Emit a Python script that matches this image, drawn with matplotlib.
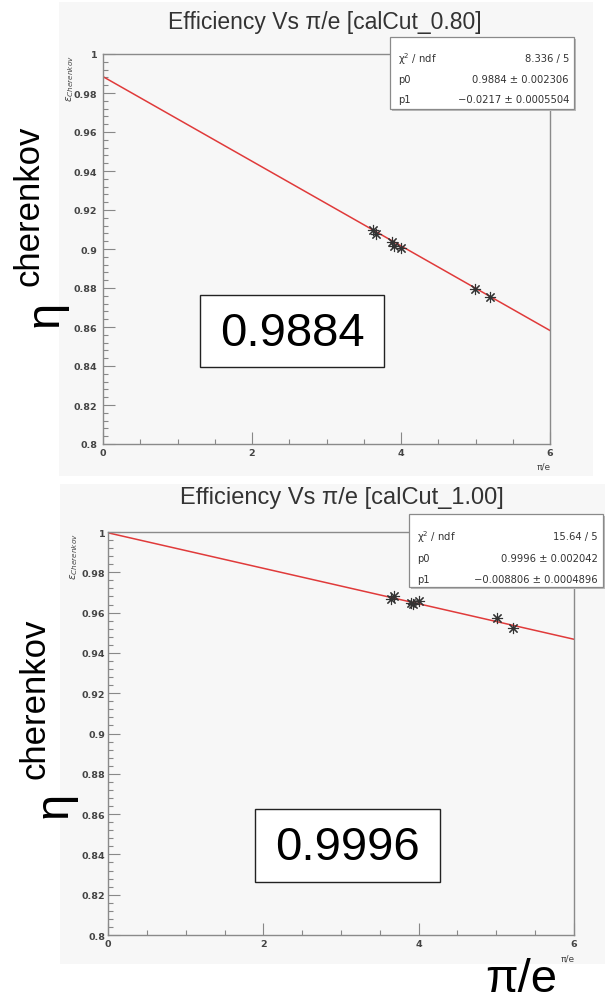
import numpy as np
import matplotlib.pyplot as plt
from matplotlib.patches import Rectangle
from matplotlib.ticker import MultipleLocator, FuncFormatter

# values
pion_e_top = [3.62, 3.66, 3.88, 3.91, 4.00, 4.99, 5.19]
eff_top = [0.9097, 0.9077, 0.9036, 0.9016, 0.9005, 0.8797, 0.8752]
pion_e_bot = [3.64, 3.68, 3.90, 3.93, 4.00, 5.01, 5.21]
eff_bot = [0.9668, 0.9680, 0.9648, 0.9645, 0.9656, 0.9572, 0.9522]

p0_top, p1_top = 0.9884, -0.0217
p0_bot, p1_bot = 0.9996, -0.008806

titles = ["Efficiency Vs \u03c0/e [calCut_0.80]", "Efficiency Vs \u03c0/e [calCut_1.00]"]
stats_top = [("\u03c7$^{2}$ / ndf", "8.336 / 5"),
             ("p0", "0.9884 \u00b1 0.002306"),
             ("p1", "\u22120.0217 \u00b1 0.0005504")]
stats_bot = [("\u03c7$^{2}$ / ndf", "15.64 / 5"),
             ("p0", "0.9996 \u00b1 0.002042"),
             ("p1", "\u22120.008806 \u00b1 0.0004896")]
big_labels = ["0.9884", "0.9996"]

W, H = 610, 1004
fig = plt.figure(figsize=(W / 100, H / 100), dpi=100)
fig.patch.set_facecolor('white')


def fx(px):
    return px / W


def fy(py):
    return 1 - py / H


def box(x0, y0, x1, y1, **kw):
    r = Rectangle((fx(x0), fy(y1)), fx(x1) - fx(x0), fy(y0) - fy(y1),
                  transform=fig.transFigure, **kw)
    fig.patches.append(r)
    return r


marker = (8, 2, 0)
red = '#e03a3a'
grey = '#8a8a8a'
tick_font = dict(family='DejaVu Sans', weight='bold', size=6.8)


def panel(canvas, frame, title, title_xy, title_size, xs, ys, p0, p1,
          stats, stat_box, stat_rows, big, big_box, ylab_xy, xlab_xy, ypad):
    # ROOT canvas background, kept behind the axes
    box(*canvas, facecolor='#f7f7f7', edgecolor='none', zorder=-5)

    x0, y0, x1, y1 = frame
    ax = fig.add_axes([fx(x0), fy(y1), fx(x1) - fx(x0), fy(y0) - fy(y1)])
    ax.set_facecolor('none')
    ax.set_xlim(0, 6)
    ax.set_ylim(0.8, 1.0)

    xfit = np.linspace(0, 6, 50)
    ax.plot(xfit, p0 + p1 * xfit, color=red, lw=1.1, zorder=2)
    ax.plot(xs, ys, ls='none', marker=marker, ms=8, mew=0.8,
            color='#333333', zorder=3)

    ax.xaxis.set_major_locator(MultipleLocator(2))
    ax.xaxis.set_minor_locator(MultipleLocator(0.5))
    ax.yaxis.set_major_locator(MultipleLocator(0.02))
    ax.yaxis.set_minor_locator(MultipleLocator(0.004))
    ax.yaxis.set_major_formatter(FuncFormatter(lambda v, _: f'{round(v, 2):g}'))
    ax.xaxis.set_major_formatter(FuncFormatter(lambda v, _: f'{v:g}'))
    ax.tick_params(which='both', direction='in', color='#888888', width=0.8,
                   top=False, right=False, labelcolor='#444444')
    ax.tick_params(which='major', length=8.5)
    ax.tick_params(which='minor', length=3.5)
    ax.tick_params(axis='x', pad=3)
    ax.tick_params(axis='y', pad=ypad)
    for lab in ax.get_xticklabels() + ax.get_yticklabels():
        lab.set_fontproperties(tick_font)
    for sp in ax.spines.values():
        sp.set_color(grey)
        sp.set_linewidth(1.0)

    fig.text(fx(title_xy[0]), fy(title_xy[1]), title, ha='center', va='center',
             fontsize=title_size, color='#333333', family='Liberation Sans')

    # small axis titles, ROOT style
    fig.text(fx(xlab_xy[0]), fy(xlab_xy[1]), '\u03c0/e', ha='right', va='center',
             fontsize=6.5, color='#444444')
    fig.text(fx(ylab_xy[0]), fy(ylab_xy[1]), r'$\epsilon_{Cherenkov}$',
             rotation=90, ha='center', va='top', fontsize=7.5, color='#444444')

    # stats box
    sx0, sy0, sx1, sy1 = stat_box
    box(sx0 + 2, sy0 + 2, sx1 + 2, sy1 + 2, facecolor='#bbbbbb', edgecolor='none', zorder=5)
    box(sx0, sy0, sx1, sy1, facecolor='white', edgecolor=grey, lw=0.9, zorder=6)
    for (name, val), ry in zip(stats, stat_rows):
        fig.text(fx(sx0 + 8), fy(ry), name, ha='left', va='center', fontsize=7.2,
                 color='#333333', zorder=7)
        fig.text(fx(sx1 - 5), fy(ry), val, ha='right', va='center', fontsize=7.2,
                 color='#333333', zorder=7)

    # big overlay value
    bx0, by0, bx1, by1 = big_box
    box(bx0, by0, bx1, by1, facecolor='white', edgecolor='#222222', lw=1.0, zorder=6)
    fig.text(fx((bx0 + bx1) / 2), fy((by0 + by1) / 2 + 2), big, ha='center', va='center',
             fontsize=34, family='Liberation Sans', color='black', zorder=7)
    return ax


panel(canvas=(59, 3, 593, 477), frame=(103, 55, 550, 445), title=titles[0],
      title_xy=(325, 22), title_size=16.5, xs=pion_e_top, ys=eff_top,
      p0=p0_top, p1=p1_top, stats=stats_top, stat_box=(390, 38, 574, 110),
      stat_rows=(59, 80, 100), big=big_labels[0], big_box=(200, 296, 384, 368),
      ylab_xy=(70, 55), xlab_xy=(551, 467), ypad=4)

panel(canvas=(60, 485, 605, 965), frame=(108, 533, 574, 936), title=titles[1],
      title_xy=(342, 498), title_size=17, xs=pion_e_bot, ys=eff_bot,
      p0=p0_bot, p1=p1_bot, stats=stats_bot, stat_box=(409, 515, 603, 588),
      stat_rows=(537, 559, 580), big=big_labels[1], big_box=(255, 810, 440, 883),
      ylab_xy=(74, 533), xlab_xy=(575, 959), ypad=2)

# large hand-added labels
narrow = ['Liberation Sans Narrow', 'Liberation Sans']
for eta_xy, ch_xy in [((58, 314), (38, 206)), ((67, 805), (45, 699))]:
    fig.text(fx(ch_xy[0]), fy(ch_xy[1]), 'cherenkov', rotation=90, rotation_mode='anchor',
             ha='center', va='baseline', fontsize=25, family=narrow, color='black')
    fig.text(fx(eta_xy[0]), fy(eta_xy[1]), '\u03b7', rotation=90, rotation_mode='anchor',
             ha='center', va='baseline', fontsize=34, family=narrow, color='black')

fig.text(fx(521), fy(992), '\u03c0/e', ha='center', va='baseline', fontsize=34,
         family='Liberation Sans', color='black')

fig.savefig('out.png', dpi=100)
